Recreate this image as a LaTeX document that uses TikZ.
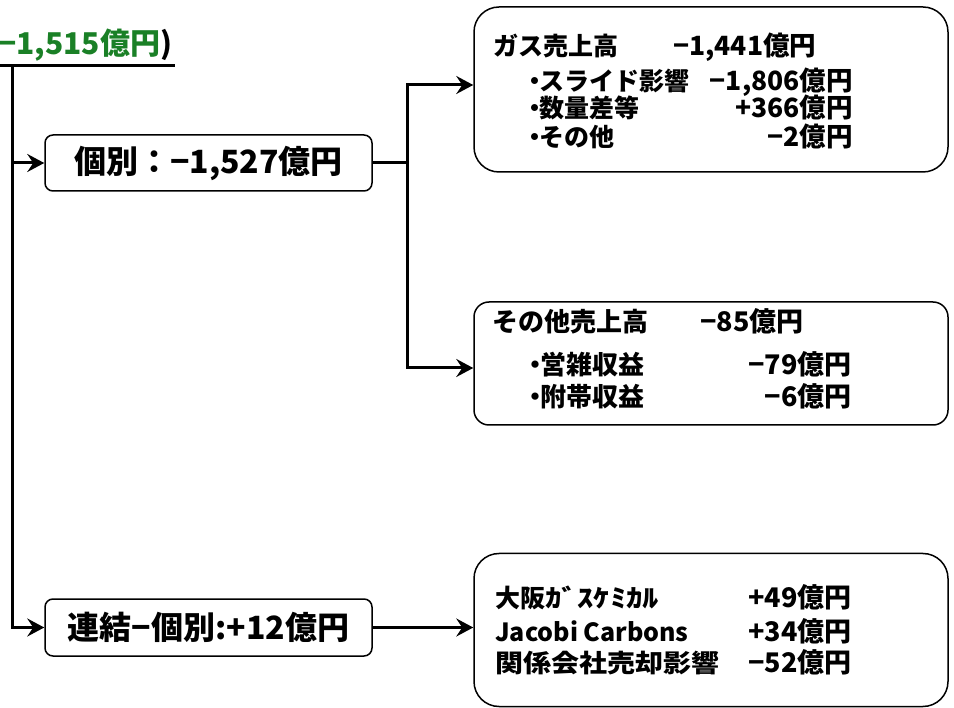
\documentclass[tikz,border=0pt]{standalone}
\usepackage{fontspec}
\setmainfont{Noto Sans CJK JP}
\usetikzlibrary{arrows.meta,calc}
\definecolor{dgreen}{RGB}{26,128,38}
\begin{document}
\begin{tikzpicture}[x=1pt,y=-1pt,
  conn/.style={line width=3pt},
  arr/.style={conn,-{Stealth[length=17pt,width=18pt,inset=6pt]}},
  rbox/.style={draw,line width=1.5pt,inner sep=0pt},
  bigtxt/.style={font=\fontsize{32}{36}\selectfont\bfseries},
  txt/.style={inner sep=0pt,font=\fontsize{25}{30}\selectfont\bfseries},
  txtv/.style={inner sep=0pt,font=\fontsize{26.5}{30}\selectfont\bfseries},
  txtb/.style={inner sep=0pt,font=\fontsize{26}{30}\selectfont\bfseries},
  txtc/.style={inner sep=0pt,font=\fontsize{27}{30}\selectfont\bfseries},
  lw/.style={txt,anchor=base west},
  le/.style={txtv,anchor=base east},
  lwb/.style={txtb,anchor=base west},
  leb/.style={txtb,anchor=base east},
  lwc/.style={txtc,anchor=base west}]
\useasboundingbox (0,0) rectangle (954,708);

% top green total
\node[inner sep=0pt,anchor=base west,font=\fontsize{30}{34}\selectfont\bfseries] (total) at (-2,55) {\textcolor{dgreen}{−1,515億円})};
\coordinate (tl) at (0,66);
\coordinate (tr) at (175,66);
\coordinate (trunk) at (12,66);

% boxes
\node[rbox,rounded corners=8pt,minimum width=327pt,minimum height=56pt,bigtxt] (kobetsu) at (208.5,163) {個別：−1,527億円};
\node[rbox,rounded corners=8pt,minimum width=327pt,minimum height=57pt,bigtxt] (renketsu) at (208.5,627.5) {連結−個別:+12億円};
\node[rbox,rounded corners=25pt,minimum width=474pt,minimum height=165pt] (boxA) at (711,89.5) {};
\node[rbox,rounded corners=15pt,minimum width=474pt,minimum height=123pt] (boxB) at (711,363.5) {};
\node[rbox,rounded corners=25pt,minimum width=474pt,minimum height=153pt] (boxC) at (711,630) {};

% connectors
\draw[conn] (tl) -- (tr);
\draw[arr] (trunk) |- (renketsu.west);
\draw[arr] (trunk |- kobetsu.west) -- (kobetsu.west);
\coordinate (j) at (407,163);
\draw[conn] (kobetsu.east) -- (j);
\coordinate (aA) at ([yshift=4.5pt]boxA.west);
\coordinate (aB) at ([yshift=-4.5pt]boxB.west);
\draw[arr] (j) |- (aA);
\draw[arr] (j) |- (aB);
\draw[arr] (renketsu.east) -- (renketsu.east -| boxC.west);

% box A texts
\node[lw] (a1) at (493,55.5) {ガス売上高};
\node[txtv,anchor=base west] (a1v) at (673,55.5) {−1,441億円};
\node[lw] (a2) at (522,90.5) {・\kern-0.3emスライド影響};
\node[le] (a2v) at (853,90.5) {−1,806億円};
\node[lw] (a3) at (522,117.5) {・\kern-0.3em数量差等};
\node[le] (a3v) at (853,117.5) {+366億円};
\node[lw] (a4) at (522,146.5) {・\kern-0.3emその他};
\node[le] (a4v) at (853,146.5) {−2億円};

% box B texts
\node[lwb] (b1) at (492,332) {その他売上高};
\node[txtc,anchor=base west] (b1v) at (700,332) {−85億円};
\node[lwb] (b2) at (522,375) {・\kern-0.3em営雑収益};
\node[txtc,anchor=base east] (b2v) at (852,375) {−79億円};
\node[lwb] (b3) at (522,407) {・\kern-0.3em附帯収益};
\node[txtc,anchor=base east] (b3v) at (852,407) {−6億円};

% box C texts
\node[lw] (c1) at (495,607.5) {大阪{\addfontfeatures{FakeStretch=1.3}ｶﾞｽｹﾐｶﾙ}};
\node[lwc] (c1v) at (748,607.5) {+49億円};
\node[lw] (c2) at (495,641.5) {Jacobi Carbons};
\node[lwc] (c2v) at (748,641.5) {+34億円};
\node[lw] (c3) at (495,672.5) {\addfontfeatures{FakeStretch=1.12}関係会社売却影響};
\node[lwc] (c3v) at (748,672.5) {−52億円};
\end{tikzpicture}
\end{document}
